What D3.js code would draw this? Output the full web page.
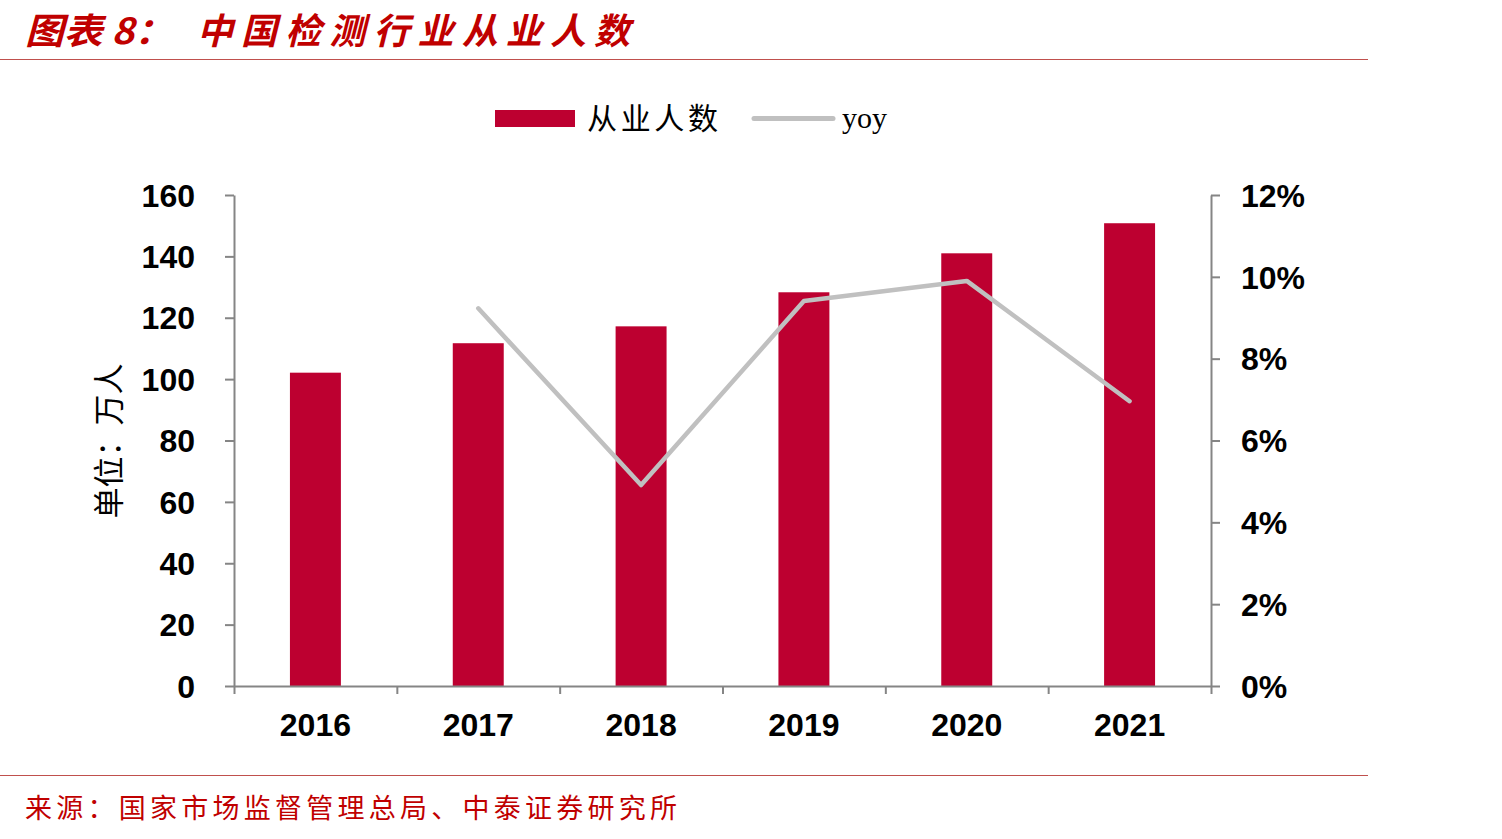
<!DOCTYPE html>
<html>
<head>
<meta charset="utf-8">
<script src="https://cdn.jsdelivr.net/npm/d3@7"></script>
<style>
  html, body { margin: 0; padding: 0; background: #fff; }
  svg { display: block; }
</style>
</head>
<body>
<div id="chart"></div>
<script>
// ---- data ----
const years = ["2016", "2017", "2018", "2019", "2020", "2021"];
const employees = [102.1, 111.7, 117.2, 128.3, 141.0, 150.8];   // 万人
const yoy = [null, 0.0923, 0.0491, 0.0941, 0.0990, 0.0696];
const leftTicks = [0, 20, 40, 60, 80, 100, 120, 140, 160];
const rightTicks = [0, 0.02, 0.04, 0.06, 0.08, 0.10, 0.12];
const titleLead = "图表 8：";
const titleMain = "中国检测行业从业人数";
const sourceText = "来源：国家市场监督管理总局、中泰证券研究所";
const yAxisTitle = "单位：万人";
const legendBar = "从业人数";
const legendLine = "yoy";

// ---- layout ----
const W = 1502, H = 839;
const plot = { left: 234, right: 1211, top: 195, bottom: 686 };
const barColor = "#bd0030";
const lineColor = "#c0c0c0";
const axisColor = "#858585";
const red = "#c00000";
const numFont = "'Liberation Sans', Arial, sans-serif";
const cjkFont = "'Noto Sans CJK SC', sans-serif";

const svg = d3.select("#chart").append("svg")
  .attr("width", W).attr("height", H);

// title
svg.append("text").attr("x", 25).attr("y", 44)
  .attr("font-family", cjkFont).attr("font-weight", "bold").attr("font-style", "italic")
  .attr("font-size", 36).attr("fill", red)
  .attr("textLength", 148).attr("lengthAdjust", "spacingAndGlyphs")
  .text(titleLead);
svg.append("text").attr("x", 197).attr("y", 44)
  .attr("font-family", cjkFont).attr("font-weight", "bold").attr("font-style", "italic")
  .attr("font-size", 36).attr("fill", red)
  .attr("textLength", 433).attr("lengthAdjust", "spacing")
  .text(titleMain);
svg.append("line").attr("x1", 0).attr("x2", 1368).attr("y1", 59.5).attr("y2", 59.5)
  .attr("stroke", "#c0504d").attr("stroke-width", 1.2);

// bottom rule + source
svg.append("line").attr("x1", 0).attr("x2", 1368).attr("y1", 775.5).attr("y2", 775.5)
  .attr("stroke", "#c0504d").attr("stroke-width", 1.2);
svg.append("text").attr("x", 25).attr("y", 818)
  .attr("font-family", cjkFont).attr("font-size", 27).attr("fill", red)
  .attr("textLength", 652).attr("lengthAdjust", "spacing")
  .text(sourceText);

// scales
const x = d3.scaleBand().domain(years).range([plot.left, plot.right])
  .paddingInner(0.687).paddingOuter(0.3435);
const xEdge = d3.scaleLinear().domain([0, years.length]).range([plot.left, plot.right]);
const yL = d3.scaleLinear().domain([0, 160]).range([plot.bottom, plot.top]);
const yR = d3.scaleLinear().domain([0, 0.12]).range([plot.bottom, plot.top]);

// bars
svg.append("g").selectAll("rect").data(employees).join("rect")
  .attr("x", (d, i) => x(years[i]))
  .attr("width", x.bandwidth())
  .attr("y", d => yL(d))
  .attr("height", d => yL(0) - yL(d))
  .attr("fill", barColor);

// axes
function styleAxis(g) {
  g.selectAll(".domain").attr("stroke", axisColor).attr("stroke-width", 2);
  g.selectAll(".tick line").attr("stroke", axisColor).attr("stroke-width", 2);
  g.selectAll(".tick text").attr("fill", "#000").attr("font-family", numFont)
    .attr("font-weight", "bold").attr("font-size", 32);
}

const gL = svg.append("g").attr("transform", `translate(${plot.left},0)`)
  .call(d3.axisLeft(yL).tickValues(leftTicks).tickSize(9).tickSizeOuter(0).tickPadding(30).tickFormat(d3.format("d")));
styleAxis(gL);
gL.selectAll(".tick text").attr("dy", "0.35em");

const gR = svg.append("g").attr("transform", `translate(${plot.right},0)`)
  .call(d3.axisRight(yR).tickValues(rightTicks).tickSize(9).tickSizeOuter(0).tickPadding(21).tickFormat(d3.format(".0%")));
styleAxis(gR);
gR.selectAll(".tick text").attr("dy", "0.35em");

const gB = svg.append("g").attr("transform", `translate(0,${plot.bottom})`)
  .call(d3.axisBottom(xEdge).tickValues(d3.range(years.length + 1)).tickSize(8).tickSizeOuter(0).tickFormat(""));
styleAxis(gB);

const gBL = svg.append("g").attr("transform", `translate(0,${plot.bottom})`)
  .call(d3.axisBottom(x).tickSize(0).tickPadding(27));
gBL.select(".domain").remove();
styleAxis(gBL);

// y axis title
svg.append("text")
  .attr("transform", `translate(120,441) rotate(-90)`)
  .attr("text-anchor", "middle")
  .attr("font-family", cjkFont).attr("font-size", 31).attr("fill", "#000")
  .text(yAxisTitle);

// line
const lineData = yoy.map((v, i) => ({ year: years[i], v })).filter(d => d.v != null);
svg.append("path").datum(lineData)
  .attr("fill", "none").attr("stroke", lineColor).attr("stroke-width", 4.5)
  .attr("stroke-linecap", "round").attr("stroke-linejoin", "round")
  .attr("d", d3.line().x(d => x(d.year) + x.bandwidth() / 2).y(d => yR(d.v)));

// legend
const lg = svg.append("g");
lg.append("rect").attr("x", 495).attr("y", 110).attr("width", 80).attr("height", 17).attr("fill", barColor);
lg.append("text").attr("x", 587).attr("y", 129)
  .attr("font-family", cjkFont).attr("font-size", 30).attr("fill", "#000")
  .attr("textLength", 131).attr("lengthAdjust", "spacing")
  .text(legendBar);
lg.append("line").attr("x1", 754).attr("x2", 833).attr("y1", 118.5).attr("y2", 118.5)
  .attr("stroke", lineColor).attr("stroke-width", 5).attr("stroke-linecap", "round");
lg.append("text").attr("x", 842).attr("y", 128)
  .attr("font-family", "'Liberation Serif', 'Times New Roman', serif").attr("font-size", 30).attr("fill", "#000")
  .text(legendLine);
</script>
</body>
</html>
